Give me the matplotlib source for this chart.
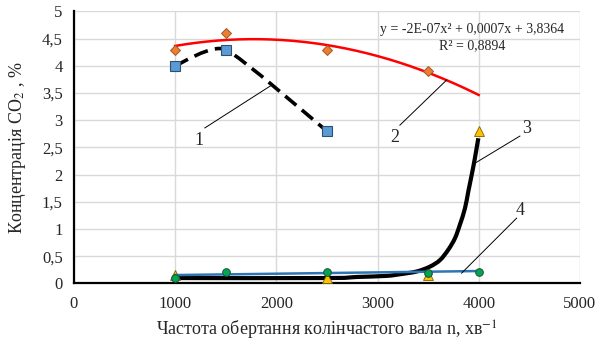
import numpy as np
import matplotlib
matplotlib.use("Agg")
import matplotlib.pyplot as plt
from matplotlib.path import Path
from matplotlib.patches import PathPatch

plt.rcParams['font.family'] = ['Liberation Serif', 'DejaVu Serif']
plt.rcParams['mathtext.fontset'] = 'stix'

# Measured CO2 concentration, % versus crankshaft speed, rpm
x1 = [1000, 1500, 2500]
y1 = [4.0, 4.3, 2.8]

x2 = [1000, 1500, 2500, 3500]
y2 = [4.3, 4.6, 4.3, 3.9]

x3 = [1000, 2500, 3500, 4000]
y3 = [0.15, 0.1, 0.15, 2.8]

x4 = [1000, 1500, 2500, 3500, 4000]
y4 = [0.1, 0.22, 0.22, 0.2, 0.22]

# Smoothed curve for series 3
curve3_x = [1000, 2500, 2800, 3090, 3221, 3386, 3518, 3617, 3699, 3765,
            3814, 3864, 3897, 3930, 3962, 3996]
curve3_y = [0.1, 0.1, 0.12, 0.14, 0.17, 0.22, 0.31, 0.43, 0.62, 0.83,
            1.08, 1.38, 1.69, 1.99, 2.30, 2.67]

x_ticks = [0, 1000, 2000, 3000, 4000, 5000]
y_ticks = [0, 0.5, 1, 1.5, 2, 2.5, 3, 3.5, 4, 4.5, 5]
y_tick_labels = ['0', '0,5', '1', '1,5', '2', '2,5', '3', '3,5', '4', '4,5', '5']
x_tick_labels = ['0', '1000', '2000', '3000', '4000', '5000']

equation_text = "y = -2E-07x² + 0,0007x + 3,8364"
r2_text = "R² = 0,8894"


def smooth_path(xs, ys, tension=1.0):
    """Catmull-Rom style Bezier through the given points."""
    pts = np.column_stack([xs, ys]).astype(float)
    n = len(pts)
    verts = [pts[0]]
    codes = [Path.MOVETO]
    k = tension / 6.0
    for i in range(n - 1):
        p0 = pts[i - 1] if i > 0 else pts[i]
        p1 = pts[i]
        p2 = pts[i + 1]
        p3 = pts[i + 2] if i + 2 < n else pts[i + 1]
        c1 = p1 + (p2 - p0) * k
        c2 = p2 - (p3 - p1) * k
        verts += [c1, c2, p2]
        codes += [Path.CURVE4] * 3
    return Path(verts, codes)


fig = plt.figure(figsize=(5.96, 3.43), dpi=100)
ax = fig.add_axes([0.124, 0.1735, 0.849, 0.793])

ax.set_xlim(0, 5000)
ax.set_ylim(0, 5)
ax.set_xticks(x_ticks)
ax.set_xticklabels(x_tick_labels)
ax.set_yticks(y_ticks)
ax.set_yticklabels(y_tick_labels)
ax.grid(True, color='#d9d9d9', linewidth=1.0)
ax.set_axisbelow(True)
ax.tick_params(axis='x', length=0, labelsize=12, labelcolor='#262626', pad=9)
ax.tick_params(axis='y', length=0, labelsize=12, labelcolor='#262626', pad=8)
for s in ['top', 'right']:
    ax.spines[s].set_visible(False)
for s in ['left', 'bottom']:
    ax.spines[s].set_color('black')
    ax.spines[s].set_linewidth(1.6)

# Series 1: dashed smoothed line
ax.add_patch(PathPatch(smooth_path(x1, y1, tension=0.55), fill=False,
                       edgecolor='black', linewidth=2.6,
                       linestyle=(0, (4, 2)), capstyle='butt',
                       transform=ax.transData, zorder=3))
ax.plot(x1, y1, linestyle='none', marker='s', markersize=6.5,
        markerfacecolor='#5b9bd5', markeredgecolor='#2f4f6f',
        markeredgewidth=0.8, zorder=5)

# Series 2: quadratic trendline
coef = np.polyfit(x2, y2, 2)
xt = np.linspace(1000, 4000, 200)
ax.plot(xt, np.polyval(coef, xt), color='#ff0000', linewidth=1.8, zorder=3)
ax.plot(x2, y2, linestyle='none', marker='D', markersize=5.5,
        markerfacecolor='#ed7d31', markeredgecolor='#9c5a2a',
        markeredgewidth=0.7, zorder=5)

# Series 3: smoothed black line
ax.add_patch(PathPatch(smooth_path(curve3_x, curve3_y), fill=False,
                       edgecolor='black', linewidth=3.0,
                       capstyle='butt', joinstyle='round',
                       transform=ax.transData, zorder=3))
ax.plot(x3, y3, linestyle='none', marker='^', markersize=7,
        markerfacecolor='#ffc000', markeredgecolor='#7f6000',
        markeredgewidth=0.6, zorder=4)

# Series 4: linear trendline
lin = np.polyfit(x4, y4, 1)
xl = np.array([1000, 4000])
ax.plot(xl, np.polyval(lin, xl), color='#2e75b6', linewidth=1.8, zorder=4)
ax.plot(x4, y4, linestyle='none', marker='o', markersize=5.5,
        markerfacecolor='#00a650', markeredgecolor='#1f4e3a',
        markeredgewidth=0.7, zorder=5)

# Trendline equation
ax.text(3938, 4.66, equation_text, ha='center', va='center', fontsize=10,
        color='#262626')
ax.text(3938, 4.38, r2_text, ha='center', va='center', fontsize=10,
        color='#262626')

# Curve numbers with leader lines
callouts = [
    ("1", (1294, 2.86), (1957, 3.65), (1235, 2.62)),
    ("2", (3221, 2.91), (3683, 3.74), (3172, 2.68)),
    ("3", (4407, 2.71), (3962, 2.21), (4473, 2.84)),
    ("4", (4374, 1.20), (3831, 0.19), (4407, 1.34)),
]
for label, p_start, p_end, p_text in callouts:
    ax.plot([p_start[0], p_end[0]], [p_start[1], p_end[1]], color='black',
            linewidth=0.7, zorder=6)
    ax.text(p_text[0], p_text[1], label, ha='center', va='center',
            fontsize=13, color='#262626')

ax.set_xlabel("Частота обертання колінчастого вала n, хв$^{-1}$",
              fontsize=13, color='#262626', labelpad=5)
ax.set_ylabel("Концентрація CO$_2$ , %", fontsize=13, color='#262626',
              labelpad=10)

fig.savefig("out.png", dpi=100)
